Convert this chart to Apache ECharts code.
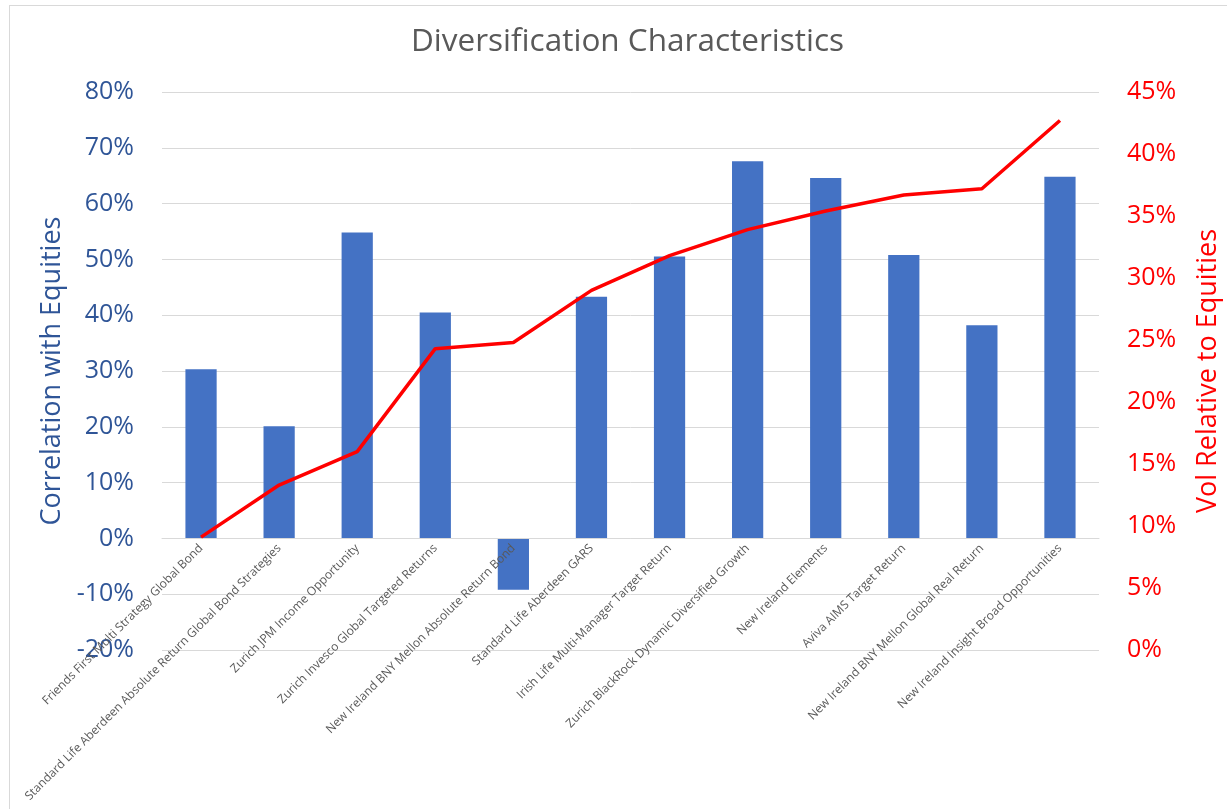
<!DOCTYPE html>
<html>
<head>
<meta charset="utf-8">
<title>Diversification Characteristics</title>
<script src="https://cdn.jsdelivr.net/npm/echarts@6/dist/echarts.min.js"></script>
<style>
    html, body { margin: 0; padding: 0; background: #fff; overflow: hidden; }
    #frame {
        position: absolute; left: 9px; top: 5px; width: 1240px; height: 820px;
        border-left: 1px solid #d9d9d9; border-top: 1px solid #d9d9d9;
    }
    #chart { position: absolute; left: 0; top: 0; width: 1227px; height: 809px; }
</style>
</head>
<body>
<div id="frame"></div>
<div id="chart"></div>
<script>
    // fund names (x axis)
    var funds = [
        'Friends First Multi Strategy Global Bond',
        'Standard Life Aberdeen Absolute Return Global Bond Strategies',
        'Zurich JPM Income Opportunity',
        'Zurich Invesco Global Targeted Returns',
        'New Ireland BNY Mellon Absolute Return Bond',
        'Standard Life Aberdeen GARS',
        'Irish Life Multi-Manager Target Return',
        'Zurich BlackRock Dynamic Diversified Growth',
        'New Ireland Elements',
        'Aviva AIMS Target Return',
        'New Ireland BNY Mellon Global Real Return',
        'New Ireland Insight Broad Opportunities'
    ];

    // correlation with equities, %
    var correlation = [30.3, 20.1, 54.8, 40.5, -9.2, 43.3, 50.5, 67.6, 64.6, 50.8, 38.2, 64.8];

    // vol relative to equities, %
    var relVol = [9.1, 13.3, 16.0, 24.3, 24.8, 29.0, 31.8, 33.9, 35.4, 36.7, 37.2, 42.7];

    var font = '"Open Sans", "Noto Sans", sans-serif';
    var blue = '#2f5597';
    var red = '#ff0000';

    var gridTop = 92, gridBottom = 159;
    var plotH = 809 - gridTop - gridBottom;
    // the category labels sit on the 0% line, which is 2 of 10 steps above the bottom
    var zeroOffset = -plotH * 0.2;

    var chart = echarts.init(document.getElementById('chart'));

    var option = {
        animation: false,
        textStyle: { fontFamily: font },
        title: {
            text: 'Diversification Characteristics',
            left: 406,
            top: 21,
            textStyle: { color: '#595959', fontSize: 31.5, fontWeight: 'normal', fontFamily: font }
        },
        grid: {
            left: 162, right: 128, top: gridTop, bottom: gridBottom,
            containLabel: false, outerBoundsMode: 'none'
        },
        xAxis: {
            type: 'category',
            data: funds,
            offset: zeroOffset,
            z: 3,
            axisLine: { onZero: false, lineStyle: { color: '#d9d9d9' } },
            axisTick: { show: false },
            axisLabel: {
                interval: 0,
                rotate: 45,
                margin: 8,
                fontSize: 12,
                color: '#595959'
            }
        },
        yAxis: [
            {
                type: 'value',
                min: -20,
                max: 80,
                interval: 10,
                name: 'Correlation with Equities',
                nameLocation: 'middle',
                nameGap: 96,
                nameTextStyle: { color: blue, fontSize: 27 },
                axisLine: { show: false },
                axisTick: { show: false },
                axisLabel: { color: blue, fontSize: 25, margin: 28, formatter: '{value}%' },
                splitLine: { lineStyle: { color: '#d9d9d9', width: 1 } }
            },
            {
                type: 'value',
                min: 0,
                max: 45,
                interval: 5,
                name: 'Vol Relative to Equities',
                nameLocation: 'middle',
                nameGap: 96,
                nameTextStyle: { color: red, fontSize: 27 },
                axisLine: { show: false },
                axisTick: { show: false },
                axisLabel: { color: red, fontSize: 25, margin: 28, formatter: '{value}%' },
                splitLine: { show: false }
            }
        ],
        series: [
            {
                name: 'Correlation with Equities',
                type: 'bar',
                yAxisIndex: 0,
                barWidth: '40%',
                itemStyle: { color: '#4472c4' },
                data: correlation
            },
            {
                name: 'Vol Relative to Equities',
                type: 'line',
                yAxisIndex: 1,
                symbol: 'none',
                lineStyle: { color: red, width: 3.5 },
                data: relVol
            }
        ]
    };

    chart.setOption(option);
</script>
</body>
</html>
